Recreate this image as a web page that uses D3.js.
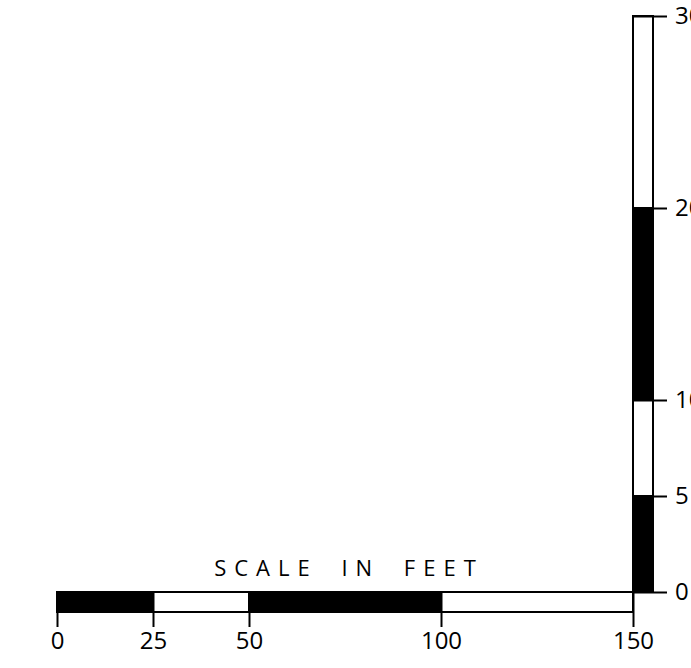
<!DOCTYPE html>
<html>
<head>
<meta charset="utf-8">
<script src="https://cdn.jsdelivr.net/npm/d3@7"></script>
<style>
  html, body { margin: 0; padding: 0; background: #fff; }
  svg text { font-family: "Open Sans", sans-serif; fill: #000; }
</style>
</head>
<body>
<svg id="scale" width="691" height="668"></svg>
<script>
// horizontal scale (feet) and vertical scale breaks
var xBreaks = [0, 25, 50, 100, 150];
var yBreaks = [0, 5, 10, 20, 30];
var segFill = ["black", "white", "black", "white"];
var title = "SCALE IN FEET";

var svg = d3.select("#scale");

var x = d3.scaleLinear().domain([0, 150]).range([57, 633]);
var y = d3.scaleLinear().domain([0, 30]).range([592, 16]);

var barH = 20, barW = 20;
var y0 = y(0), x1 = x(150);

// horizontal bar segments
var hSegs = d3.pairs(xBreaks).map((p, i) => ({ a: p[0], b: p[1], fill: segFill[i] }));
svg.append("g").selectAll("rect").data(hSegs).enter()
    .append("rect")
    .attr("x", d => x(d.a))
    .attr("y", y0)
    .attr("width", d => x(d.b) - x(d.a))
    .attr("height", barH)
    .attr("fill", d => d.fill)
    .attr("stroke", "#000")
    .attr("stroke-width", 2);

// vertical bar segments
var vSegs = d3.pairs(yBreaks).map((p, i) => ({ a: p[0], b: p[1], fill: segFill[i] }));
svg.append("g").selectAll("rect").data(vSegs).enter()
    .append("rect")
    .attr("x", x1)
    .attr("y", d => y(d.b))
    .attr("width", barW)
    .attr("height", d => y(d.a) - y(d.b))
    .attr("fill", d => d.fill)
    .attr("stroke", "#000")
    .attr("stroke-width", 2);

// axes
var xAxis = svg.append("g")
    .attr("transform", "translate(0," + y0 + ")")
    .call(d3.axisBottom(x).tickValues(xBreaks).tickSize(35).tickPadding(5).tickFormat(d3.format("d")));

var yAxis = svg.append("g")
    .attr("transform", "translate(" + x1 + ",0)")
    .call(d3.axisRight(y).tickValues(yBreaks).tickSize(34).tickPadding(8).tickFormat(d3.format("d")));

[xAxis, yAxis].forEach(g => {
    g.select(".domain").remove();
    g.selectAll("line").attr("stroke", "#000").attr("stroke-width", 2);
    g.selectAll("text").attr("font-size", 24).style("font-family", "'Open Sans', sans-serif").attr("fill", "#000");
});

// title, nudged right by half the letter spacing (trailing space)
svg.append("text")
    .attr("x", x(75) + 4)
    .attr("y", 576)
    .attr("text-anchor", "middle")
    .attr("font-size", 22)
    .attr("letter-spacing", 8)
    .attr("word-spacing", 10)
    .text(title);
</script>
</body>
</html>
